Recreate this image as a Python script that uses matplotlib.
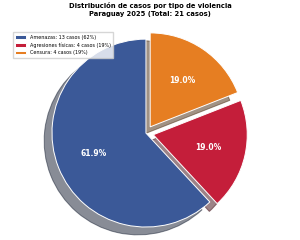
import matplotlib.pyplot as plt

labels = ['Amenazas', 'Agresiones físicas', 'Censura']
casos = [13, 4, 4]
colores = ['#3B5998', '#C41E3A', '#E67E22']
explode = [0, 0.08, 0.08]

total = sum(casos)
leyenda = ['%s: %d casos (%d%%)' % (l, c, round(100 * c / total)) for l, c in zip(labels, casos)]

fig = plt.figure(figsize=(3, 2.4), dpi=100)
ax = fig.add_axes([0.095, -0.044, 0.783, 0.979])

wedges, texts, autotexts = ax.pie(casos, explode=explode, colors=colores,
                                  autopct='%1.1f%%', startangle=90,
                                  shadow={'ox': -0.06, 'oy': -0.06},
                                  wedgeprops={'edgecolor': 'white', 'linewidth': 0.7},
                                  textprops={'color': 'white', 'fontsize': 5.5, 'fontweight': 'bold'})
ax.set_xlim(-1.25, 1.25)
ax.set_ylim(-1.25, 1.25)
ax.set_aspect('equal')

fig.suptitle('Distribución de casos por tipo de violencia\nParaguay 2025 (Total: %d casos)' % total,
             fontsize=4.9, fontweight='bold', y=0.99, linespacing=1.25)

fig.legend(wedges, leyenda, loc='upper left', bbox_to_anchor=(0.035, 0.875),
           fontsize=3.5, frameon=True, fancybox=False, edgecolor='#cccccc',
           handlelength=2.2, borderpad=0.5)

fig.savefig('out.png', dpi=100)
